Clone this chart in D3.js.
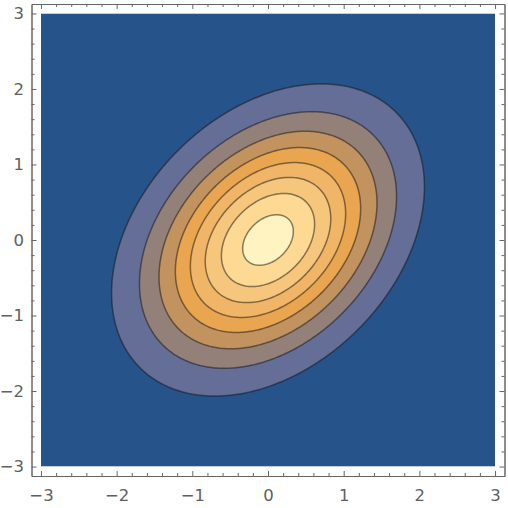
<!DOCTYPE html>
<html lang="en">
<head>
  <meta charset="UTF-8">
  <title>Contour plot</title>
  <script src="https://d3js.org/d3.v7.min.js"></script>
  <style>
    body { margin: 0; background: #fff; }
    .tick text { font-family: "DejaVu Sans", sans-serif; font-size: 16.5px; fill: #606060; }
  </style>
</head>
<body>
<div id="chart"></div>
<script>
// bivariate normal density
var meanX = 0, meanY = 0;
var sigmaX = 1, sigmaY = 1;
var rho = 0.34;

// contour levels (8 lines) and band colours, outside -> centre
var levels = [0.02, 0.04, 0.06, 0.08, 0.10, 0.12, 0.14, 0.16];
var bandColors = ["#25538a", "#646e97", "#938079", "#c2925f", "#e9a54f",
                  "#f0b566", "#f6c67d", "#fdd994", "#fff3c1"];

var majorTicks = [-3, -2, -1, 0, 1, 2, 3];
var minorTicks = [];
for (var t = -28; t <= 28; t += 2) { if (t % 10 != 0) minorTicks.push(t / 10); }

var plotMin = -3, plotMax = 3;

var W = 508, H = 508;
var svg = d3.select("#chart").append("svg")
  .attr("width", W).attr("height", H);

var x = d3.scaleLinear().domain([-3.125, 3.125]).range([31.5, 504.5]);
var y = d3.scaleLinear().domain([-3.125, 3.125]).range([476, 4]);

// sample the density on a grid
var step = 0.025;
var n = Math.round((plotMax - plotMin) / step) + 1;
var norm = 1 / (2 * Math.PI * sigmaX * sigmaY * Math.sqrt(1 - rho * rho));
var grid = new Array(n * n);
for (var j = 0; j < n; j++) {
  for (var i = 0; i < n; i++) {
    var u = (plotMin + i * step - meanX) / sigmaX;
    var v = (plotMin + j * step - meanY) / sigmaY;
    var q = (u * u - 2 * rho * u * v + v * v) / (1 - rho * rho);
    grid[j * n + i] = norm * Math.exp(-q / 2);
  }
}

var contours = d3.contours().size([n, n]).thresholds(levels)(grid);

var proj = d3.geoTransform({
  point: function(gx, gy) {
    this.stream.point(x(plotMin + (gx - 0.5) * step), y(plotMin + (gy - 0.5) * step));
  }
});
var path = d3.geoPath(proj);

svg.append("clipPath").attr("id", "clip")
  .append("rect")
  .attr("x", x(plotMin)).attr("y", y(plotMax))
  .attr("width", x(plotMax) - x(plotMin))
  .attr("height", y(plotMin) - y(plotMax));

var plot = svg.append("g").attr("clip-path", "url(#clip)");

plot.append("rect")
  .attr("x", x(plotMin)).attr("y", y(plotMax))
  .attr("width", x(plotMax) - x(plotMin))
  .attr("height", y(plotMin) - y(plotMax))
  .attr("fill", bandColors[0]);

plot.selectAll("path.band")
  .data(contours)
  .enter().append("path")
  .attr("class", "band")
  .attr("d", path)
  .attr("fill", function(d, k) { return bandColors[k + 1]; })
  .attr("stroke", "#111")
  .attr("stroke-opacity", 0.5)
  .attr("stroke-width", 1.5)
  .attr("stroke-linejoin", "round");

// frame with inward ticks on all sides
function styleAxis(g) {
  g.selectAll("path.domain").attr("stroke", "#666").attr("stroke-width", 1);
  g.selectAll(".tick line").attr("stroke", "#666").attr("stroke-width", 1);
}

var fmt = d3.format("d");

svg.append("g").attr("transform", "translate(0," + y.range()[0] + ")")
  .call(d3.axisBottom(x).tickValues(majorTicks).tickFormat(fmt)
    .tickSizeInner(-5).tickSizeOuter(0).tickPadding(13.5))
  .call(styleAxis);
svg.append("g").attr("transform", "translate(0," + y.range()[0] + ")")
  .call(d3.axisBottom(x).tickValues(minorTicks).tickFormat("")
    .tickSizeInner(-3).tickSizeOuter(0))
  .call(styleAxis);

svg.append("g").attr("transform", "translate(" + x.range()[0] + ",0)")
  .call(d3.axisLeft(y).tickValues(majorTicks).tickFormat(fmt)
    .tickSizeInner(-5).tickSizeOuter(0).tickPadding(7.5))
  .call(styleAxis);
svg.append("g").attr("transform", "translate(" + x.range()[0] + ",0)")
  .call(d3.axisLeft(y).tickValues(minorTicks).tickFormat("")
    .tickSizeInner(-3).tickSizeOuter(0))
  .call(styleAxis);

svg.append("g").attr("transform", "translate(0," + y.range()[1] + ")")
  .call(d3.axisTop(x).tickValues(majorTicks).tickFormat("")
    .tickSizeInner(-5).tickSizeOuter(0))
  .call(styleAxis);
svg.append("g").attr("transform", "translate(0," + y.range()[1] + ")")
  .call(d3.axisTop(x).tickValues(minorTicks).tickFormat("")
    .tickSizeInner(-3).tickSizeOuter(0))
  .call(styleAxis);

svg.append("g").attr("transform", "translate(" + x.range()[1] + ",0)")
  .call(d3.axisRight(y).tickValues(majorTicks).tickFormat("")
    .tickSizeInner(-5).tickSizeOuter(0))
  .call(styleAxis);
svg.append("g").attr("transform", "translate(" + x.range()[1] + ",0)")
  .call(d3.axisRight(y).tickValues(minorTicks).tickFormat("")
    .tickSizeInner(-3).tickSizeOuter(0))
  .call(styleAxis);
</script>
</body>
</html>
